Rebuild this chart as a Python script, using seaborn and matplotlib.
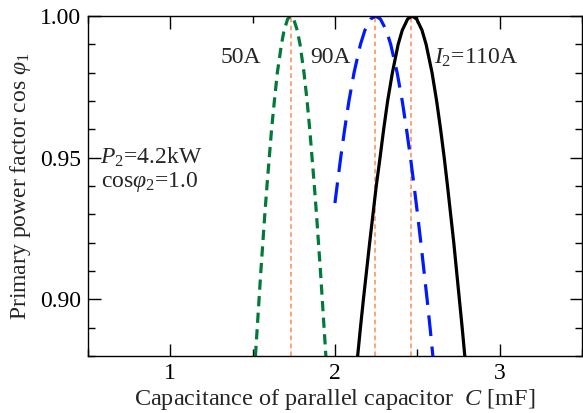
import numpy as np
import pandas as pd
import seaborn as sns
import matplotlib.pyplot as plt

# power factor levels (shared by the curves)
pf_50 = [0.88, 0.89, 0.90, 0.91, 0.92, 0.93, 0.94, 0.95, 0.96, 0.97, 0.98, 0.99, 0.995, 0.999, 1.00,
         0.999, 0.995, 0.99, 0.98, 0.97, 0.96, 0.95, 0.94, 0.93, 0.92, 0.91, 0.90, 0.89, 0.88]
c_50 = [1.517, 1.528, 1.539, 1.550, 1.562, 1.574, 1.587, 1.601, 1.615, 1.632, 1.650, 1.675, 1.691, 1.713, 1.731,
        1.749, 1.771, 1.788, 1.812, 1.831, 1.847, 1.861, 1.875, 1.888, 1.900, 1.912, 1.923, 1.934, 1.945]

pf_90 = [0.934, 0.94, 0.95, 0.96, 0.97, 0.98, 0.99, 0.995, 0.999, 1.00,
         0.999, 0.995, 0.99, 0.98, 0.97, 0.96, 0.95, 0.94, 0.93, 0.92, 0.91, 0.90, 0.89, 0.88]
c_90 = [2.000, 2.013, 2.035, 2.059, 2.085, 2.116, 2.155, 2.182, 2.218, 2.247,
        2.276, 2.312, 2.339, 2.378, 2.409, 2.435, 2.459, 2.481, 2.502, 2.522, 2.541, 2.560, 2.578, 2.595]

pf_110 = [0.88, 0.89, 0.90, 0.91, 0.92, 0.93, 0.94, 0.95, 0.96, 0.97, 0.98, 0.99, 0.995, 0.999, 1.00,
          0.999, 0.995, 0.99, 0.98, 0.97, 0.96, 0.95, 0.94, 0.93, 0.92, 0.91, 0.90, 0.89, 0.88]
c_110 = [2.138, 2.155, 2.173, 2.192, 2.211, 2.231, 2.251, 2.274, 2.296, 2.320, 2.349, 2.384, 2.409, 2.442, 2.469,
         2.496, 2.529, 2.554, 2.590, 2.618, 2.642, 2.664, 2.684, 2.703, 2.722, 2.739, 2.756, 2.773, 2.789]

# optimum capacitance for each current (orange guide lines)
c_peak = [1.735, 2.245, 2.463]

sns.set_theme(style="ticks")
plt.rcParams['font.family'] = ['Liberation Serif', 'DejaVu Serif']
plt.rcParams['mathtext.fontset'] = 'custom'
plt.rcParams['mathtext.rm'] = 'Liberation Serif'
plt.rcParams['mathtext.it'] = 'Liberation Serif:italic'
plt.rcParams['axes.linewidth'] = 1.0

fig = plt.figure(figsize=(5.83, 4.13), dpi=100)
ax = fig.add_axes([0.151, 0.138, 0.847, 0.823])

for cp in c_peak:
    ax.axvline(cp, color='#fb8b55', lw=1.1, linestyle=(0, (3.0, 2.2)), zorder=1)

sns.lineplot(x=c_50, y=pf_50, sort=False, color='#007a3a', lw=2.3,
             linestyle=(0, (3.2, 2.0)), ax=ax)
sns.lineplot(x=c_90, y=pf_90, sort=False, color='#0019ff', lw=2.3,
             linestyle=(0, (6.5, 3.3)), ax=ax)
sns.lineplot(x=c_110, y=pf_110, sort=False, color='black', lw=2.3, ax=ax)

ax.set_xlim(0.5, 3.5)
ax.set_ylim(0.88, 1.00)
ax.set_xticks([1, 2, 3])
ax.set_xticks(np.arange(0.5, 3.51, 0.5), minor=True)
ax.set_yticks([0.90, 0.95, 1.00])
ax.set_yticklabels(['0.90', '0.95', '1.00'])
ax.set_yticks(np.arange(0.88, 1.0001, 0.01), minor=True)
ax.tick_params(which='both', direction='in', top=True, right=True, labelsize=17,
               color='black', labelcolor='black', width=1.0)
ax.tick_params(which='major', length=9, pad=5)
ax.tick_params(which='minor', length=5)
for s in ax.spines.values():
    s.set_visible(True)
    s.set_color('black')

ax.set_xlabel(r'Capacitance of parallel capacitor  $C$ [mF]', fontsize=17.5, labelpad=2)
ax.set_ylabel(r'Primary power factor cos $\varphi_1$', fontsize=17, labelpad=5)

ax.text(1.43, 0.9853, '50A', fontsize=17, ha='center', va='center')
ax.text(1.976, 0.9853, '90A', fontsize=17, ha='center', va='center')
ax.text(2.858, 0.9853, r'$I_2$=110A', fontsize=17, ha='center', va='center')
ax.text(0.57, 0.9500, r'$P_2$=4.2kW', fontsize=17, ha='left', va='center')
ax.text(0.58, 0.9414, r'cos$\varphi_2$=1.0', fontsize=17, ha='left', va='center')

fig.savefig('out.png', dpi=100)
